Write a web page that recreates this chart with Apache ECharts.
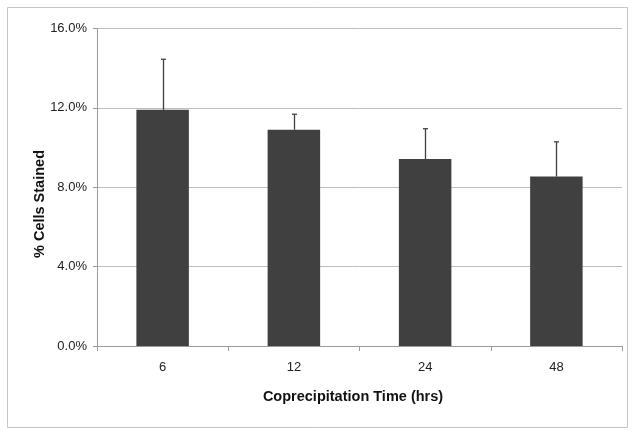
<!DOCTYPE html>
<html>
<head>
<meta charset="utf-8">
<script src="https://cdn.jsdelivr.net/npm/echarts@6/dist/echarts.min.js"></script>
<style>html,body{margin:0;padding:0;background:#fff}#c{width:636px;height:436px}</style>
</head>
<body>
<div id="c"></div>
<script>
var categories = ['6', '12', '24', '48'];
var meanValues = [0.1190, 0.1090, 0.0942, 0.0854];
var errorValues = [0.0255, 0.0078, 0.0153, 0.0175];
var yTicks = [0, 0.04, 0.08, 0.12, 0.16];

var chart = echarts.init(document.getElementById('c'), null, {renderer: 'canvas'});
var font = '"Liberation Sans", Arial, sans-serif';
var errData = categories.map(function (c, i) { return [i, meanValues[i], meanValues[i] + errorValues[i]]; });

chart.setOption({
  animation: false,
  backgroundColor: '#fff',
  grid: {left: 97, right: 14, top: 28.5, bottom: 90, containLabel: false},
  xAxis: {
    type: 'category',
    data: categories,
    boundaryGap: true,
    axisLine: {lineStyle: {color: '#9a9a9a', width: 1}},
    axisTick: {show: true, length: 5, interval: 0, lineStyle: {color: '#9a9a9a'}},
    axisLabel: {color: '#222', fontFamily: font, fontSize: 13, margin: 15},
    splitLine: {show: false}
  },
  yAxis: {
    type: 'value',
    min: yTicks[0],
    max: yTicks[yTicks.length - 1],
    interval: 0.04,
    axisLine: {show: true, lineStyle: {color: '#9a9a9a', width: 1}},
    axisTick: {show: true, length: 4, lineStyle: {color: '#9a9a9a'}},
    axisLabel: {color: '#222', fontFamily: font, fontSize: 13, margin: 10,
      formatter: function (v) { return (v * 100).toFixed(1) + '%'; }},
    splitLine: {lineStyle: {color: '#bdbdbd', width: 1}}
  },
  graphic: [
    {type: 'rect', shape: {x: 7.5, y: 7.5, width: 620, height: 420},
     style: {fill: 'none', stroke: '#c4c4c4', lineWidth: 1}, z: 0},
    {type: 'text', x: 353, y: 397, style: {text: 'Coprecipitation Time (hrs)', font: 'bold 14.5px ' + font,
      fill: '#111', textAlign: 'center', textVerticalAlign: 'middle'}},
    {type: 'text', x: 40, y: 204, rotation: Math.PI / 2, style: {text: '% Cells Stained', font: 'bold 14.5px ' + font,
      fill: '#111', textAlign: 'center', textVerticalAlign: 'middle'}}
  ],
  series: [
    {
      type: 'bar',
      data: meanValues,
      barWidth: '40%',
      itemStyle: {color: '#404040'},
      z: 2
    },
    {
      type: 'custom',
      data: errData,
      z: 3,
      renderItem: function (params, api) {
        var base = api.coord([api.value(0), api.value(1)]);
        var top = api.coord([api.value(0), api.value(2)]);
        var x = Math.round(base[0]) + 0.5;
        return {
          type: 'group',
          children: [
            {type: 'line', shape: {x1: x, y1: base[1], x2: x, y2: top[1]}, style: {stroke: '#404040', lineWidth: 1.3}},
            {type: 'line', shape: {x1: x - 2.5, y1: top[1], x2: x + 2.5, y2: top[1]}, style: {stroke: '#404040', lineWidth: 1.3}}
          ]
        };
      }
    }
  ]
});
</script>
</body>
</html>
